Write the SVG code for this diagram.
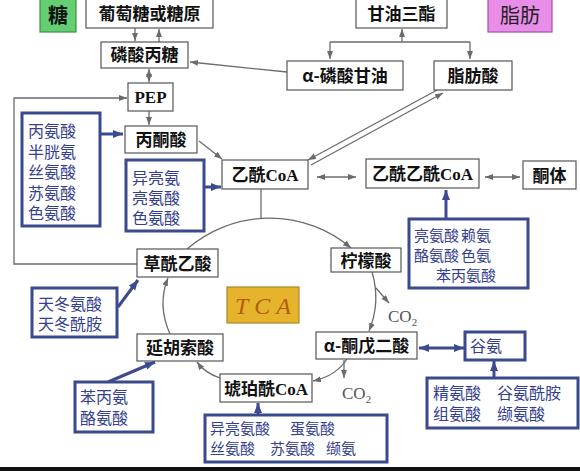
<svg xmlns="http://www.w3.org/2000/svg" width="580" height="471" viewBox="0 0 580 471">
<defs>
<marker id="ag" markerUnits="userSpaceOnUse" markerWidth="9" markerHeight="7" refX="8" refY="3" orient="auto-start-reverse"><path d="M0,0 L8,3 L0,6 z" fill="#6b6b6b"/></marker>
<marker id="ab" markerUnits="userSpaceOnUse" markerWidth="11" markerHeight="9" refX="10" refY="4" orient="auto-start-reverse"><path d="M0,0 L10,4 L0,8 z" fill="#3d4a92"/></marker>
<style>
.nb{fill:#fff;stroke:#555;stroke-width:1.2}
.nt{font-family:"Noto Sans CJK SC",sans-serif;font-size:17px;font-weight:bold;fill:#111;text-anchor:middle}
.lat{font-family:"Liberation Serif",serif;font-weight:bold}
.bb{fill:#fff;stroke:#3b4a8c;stroke-width:3}
.bt{font-family:"Noto Sans CJK SC",sans-serif;font-size:16px;fill:#34408f}
.bs{font-size:15px}
.g{fill:none;stroke:#6b6b6b;stroke-width:1.3}
.b{fill:none;stroke:#3d4a92;stroke-width:3}
.co{font-family:"Liberation Serif",serif;font-size:17px;fill:#555}
</style>
</defs>
<rect width="580" height="471" fill="#fff"/>

<g id="connectors">
<line class="g" x1="135" y1="28" x2="135" y2="41" marker-end="url(#ag)"/>
<line class="g" x1="159" y1="42" x2="159" y2="29" marker-end="url(#ag)"/>
<line class="g" x1="149" y1="69" x2="149" y2="82" marker-start="url(#ag)" marker-end="url(#ag)"/>
<line class="g" x1="287" y1="72" x2="190" y2="62" marker-end="url(#ag)"/>
<line class="g" x1="149" y1="111" x2="149" y2="125" marker-end="url(#ag)"/>
<path class="g" d="M137,264 H14 V98 H127" marker-end="url(#ag)"/>
<line class="g" x1="199" y1="141" x2="222" y2="159" marker-end="url(#ag)"/>
<line class="g" x1="402" y1="42" x2="402" y2="29" marker-end="url(#ag)"/>
<line class="g" x1="330" y1="42" x2="470" y2="42"/>
<line class="g" x1="330" y1="42" x2="330" y2="59" marker-end="url(#ag)"/>
<line class="g" x1="470" y1="42" x2="470" y2="59" marker-end="url(#ag)"/>
<line class="g" x1="311" y1="165" x2="443" y2="93" marker-end="url(#ag)"/>
<line class="g" x1="439" y1="89" x2="308" y2="160" marker-end="url(#ag)"/>
<line class="g" x1="317" y1="177" x2="356" y2="177" marker-start="url(#ag)" marker-end="url(#ag)"/>
<line class="g" x1="485" y1="177" x2="520" y2="177" marker-start="url(#ag)" marker-end="url(#ag)"/>
<line class="g" x1="261" y1="189" x2="261" y2="218"/>
<path class="g" d="M187,249 A126,126 0 0 1 351,248" marker-end="url(#ag)"/>
<path class="g" d="M372,272 Q381,302 369,331" marker-end="url(#ag)"/>
<line class="g" x1="376" y1="288" x2="389" y2="303" marker-end="url(#ag)"/>
<path class="g" d="M347,359 Q336,376 313,381" marker-end="url(#ag)"/>
<line class="g" x1="344" y1="360" x2="344" y2="378" marker-end="url(#ag)"/>
<path class="g" d="M220,378 Q205,373 197,362" marker-end="url(#ag)"/>
<path class="g" d="M170,334 Q157,305 168,278" marker-end="url(#ag)"/>

<line class="b" x1="100" y1="134" x2="123" y2="134" marker-end="url(#ab)"/>
<line class="b" x1="204" y1="187" x2="221" y2="187" marker-end="url(#ab)"/>
<line class="b" x1="446" y1="219" x2="446" y2="190" marker-end="url(#ab)"/>
<line class="b" x1="118" y1="307" x2="138" y2="280" marker-end="url(#ab)"/>
<line class="b" x1="108" y1="382" x2="155" y2="362" marker-end="url(#ab)"/>
<line class="b" x1="258" y1="415" x2="258" y2="403" marker-end="url(#ab)"/>
<line class="b" x1="419" y1="348" x2="464" y2="348" marker-start="url(#ab)" marker-end="url(#ab)"/>
<line class="b" x1="494" y1="378" x2="494" y2="361" marker-end="url(#ab)"/>
</g>

<g id="sugar"><rect x="40" y="-2" width="36" height="34" fill="#64cf72" stroke="#3b8f45" stroke-width="1.2"/><text x="58" y="23" font-family="Noto Sans CJK SC,sans-serif" font-size="20" font-weight="bold" fill="#111" text-anchor="middle">糖</text></g>
<g id="glucose"><rect class="nb" x="86" y="-2" width="127" height="30"/><text class="nt" x="149.5" y="20" font-size="18">葡萄糖或糖原</text></g>
<g id="triose"><rect class="nb" x="101" y="42" width="87" height="26"/><text class="nt" x="144.5" y="61">磷酸丙糖</text></g>
<g id="pep"><rect class="nb" x="128" y="83" width="45" height="28"/><text class="nt lat" x="150.5" y="103">PEP</text></g>
<g id="pyruvate"><rect class="nb" x="125" y="126" width="72" height="27"/><text class="nt" x="161" y="146">丙酮酸</text></g>
<g id="acetylcoa"><rect class="nb" x="222" y="160" width="86" height="29"/><text class="nt" x="265" y="181">乙酰<tspan class="lat">CoA</tspan></text></g>
<g id="acetoacetylcoa"><rect class="nb" x="366" y="159" width="113" height="29"/><text class="nt" x="422.5" y="180">乙酰乙酰<tspan class="lat">CoA</tspan></text></g>
<g id="ketone"><rect class="nb" x="523" y="161" width="53" height="28"/><text class="nt" x="549.5" y="182">酮体</text></g>
<g id="triglyceride"><rect class="nb" x="356" y="-2" width="91" height="30"/><text class="nt" x="401.5" y="20" font-size="18">甘油三酯</text></g>
<g id="fat"><rect x="488" y="-2" width="64" height="34" fill="#e88de8" stroke="#a050a8" stroke-width="1.2"/><text x="520" y="23" font-family="Noto Sans CJK SC,sans-serif" font-size="20" fill="#222" text-anchor="middle">脂肪</text></g>
<g id="glycerolp"><rect class="nb" x="287" y="61" width="116" height="29"/><text class="nt" x="345" y="82">α-磷酸甘油</text></g>
<g id="fattyacid"><rect class="nb" x="434" y="61" width="78" height="29"/><text class="nt" x="473" y="82">脂肪酸</text></g>
<g id="citrate"><rect class="nb" x="331" y="248" width="70" height="24"/><text class="nt" x="366" y="267">柠檬酸</text></g>
<g id="akg"><rect class="nb" x="316" y="332" width="101" height="27"/><text class="nt" x="366.5" y="352">α-酮戊二酸</text></g>
<g id="succinylcoa"><rect class="nb" x="220" y="374" width="92" height="28"/><text class="nt" x="266" y="395">琥珀酰<tspan class="lat">CoA</tspan></text></g>
<g id="fumarate"><rect class="nb" x="137" y="334" width="86" height="27"/><text class="nt" x="180" y="354">延胡索酸</text></g>
<g id="oxaloacetate"><rect class="nb" x="137" y="249" width="81" height="28"/><text class="nt" x="177.5" y="270">草酰乙酸</text></g>
<g id="tca"><rect x="227" y="287" width="72" height="36" fill="#e5b42c" stroke="#a9862a" stroke-width="1.2"/><text x="266" y="314" font-family="Liberation Serif,serif" font-size="24" font-style="italic" fill="#b35d0c" text-anchor="middle" letter-spacing="6">TCA</text></g>
<g id="co2a"><text class="co" x="388" y="322">CO<tspan font-size="11" dy="4">2</tspan></text></g>
<g id="co2b"><text class="co" x="342" y="399">CO<tspan font-size="11" dy="4">2</tspan></text></g>

<g id="aa1"><rect class="bb" x="22" y="113" width="78" height="113"/><text class="bt"><tspan x="28" y="137">丙氨酸</tspan><tspan x="28" y="158">半胱氨</tspan><tspan x="28" y="178">丝氨酸</tspan><tspan x="28" y="199">苏氨酸</tspan><tspan x="28" y="219">色氨酸</tspan></text></g>
<g id="aa2"><rect class="bb" x="126" y="160" width="78" height="71"/><text class="bt"><tspan x="132" y="184">异亮氨</tspan><tspan x="132" y="204">亮氨酸</tspan><tspan x="132" y="224">色氨酸</tspan></text></g>
<g id="aa3"><rect class="bb" x="409" y="219" width="119" height="69"/><text class="bt bs"><tspan x="414" y="241">亮氨酸</tspan><tspan x="461" y="241">赖氨</tspan><tspan x="414" y="261">酪氨酸</tspan><tspan x="461" y="261">色氨</tspan><tspan x="436" y="281">苯丙氨酸</tspan></text></g>
<g id="aa4"><rect class="bb" x="32" y="288" width="85" height="49"/><text class="bt"><tspan x="38" y="310">天冬氨酸</tspan><tspan x="38" y="330">天冬酰胺</tspan></text></g>
<g id="aa5"><rect class="bb" x="75" y="382" width="78" height="50"/><text class="bt"><tspan x="80" y="403">苯丙氨</tspan><tspan x="80" y="424">酪氨酸</tspan></text></g>
<g id="aa6"><rect class="bb" x="205" y="415" width="182" height="47"/><text class="bt bs"><tspan x="210" y="434">异亮氨酸</tspan><tspan x="290" y="434">蛋氨酸</tspan><tspan x="210" y="454">丝氨酸</tspan><tspan x="270" y="454">苏氨酸</tspan><tspan x="326" y="454">缬氨</tspan></text></g>
<g id="glu"><rect class="bb" x="465" y="332" width="60" height="28"/><text class="bt" x="470" y="352">谷氨</text></g>
<g id="aa7"><rect class="bb" x="427" y="378" width="151" height="50"/><text class="bt"><tspan x="433" y="399">精氨酸</tspan><tspan x="497" y="399">谷氨酰胺</tspan><tspan x="433" y="420">组氨酸</tspan><tspan x="497" y="420">缬氨酸</tspan></text></g>

<rect x="0" y="467" width="580" height="4" fill="#111"/>
</svg>
